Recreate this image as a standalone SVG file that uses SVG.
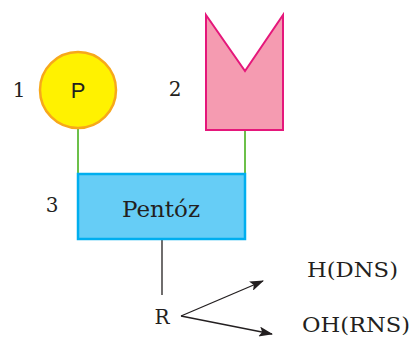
<svg xmlns="http://www.w3.org/2000/svg" width="414" height="338" viewBox="0 0 414 338">
<style>
.lbl{font-family:"DejaVu Serif","Liberation Serif",serif;fill:#231f20}
.g{stroke:#6cc04a;stroke-width:2;fill:none}
.k{stroke:#231f20;stroke-width:1.3;fill:none}
</style>
<defs>
<marker id="ah" viewBox="0 0 14 10" refX="13" refY="5" markerWidth="14" markerHeight="10" markerUnits="userSpaceOnUse" orient="auto">
<path d="M0,0 L14,5 L0,10 L3,5 Z" fill="#231f20"/>
</marker>
</defs>
<rect width="414" height="338" fill="#fff"/>
<g id="connectors">
<line class="g" x1="78" y1="129" x2="78" y2="173"/>
<line class="g" x1="245" y1="130" x2="245" y2="173"/>
<line class="k" x1="162" y1="239" x2="162" y2="295"/>
<line class="k" x1="181" y1="316" x2="263" y2="281" marker-end="url(#ah)"/>
<line class="k" x1="181" y1="316" x2="272" y2="334" marker-end="url(#ah)"/>
</g>
<g id="node-phosphate">
<circle cx="78" cy="90" r="38" fill="#fff200" stroke="#f7a81b" stroke-width="2.5"/>
<text x="78" y="98" text-anchor="middle" font-family="'Liberation Sans',Arial,sans-serif" font-size="22" fill="#231f20">P</text>
</g>
<text class="lbl" x="19" y="97" text-anchor="middle" font-size="20">1</text>
<g id="node-base">
<path d="M206,15 L245,71 L283,15 L283,130 L206,130 Z" fill="#f59bb1" stroke="#e5177b" stroke-width="2"/>
</g>
<text class="lbl" x="175" y="96" text-anchor="middle" font-size="20">2</text>
<g id="node-pentose">
<rect x="78" y="174" width="167" height="65" fill="#66cdf6" stroke="#00aeef" stroke-width="2.5"/>
<text class="lbl" x="161" y="217" text-anchor="middle" font-size="23">Pentóz</text>
</g>
<text class="lbl" x="52" y="212" text-anchor="middle" font-size="20">3</text>
<g id="node-R">
<text class="lbl" x="162" y="324" text-anchor="middle" font-size="20">R</text>
</g>
<g id="node-H">
<text class="lbl" x="307" y="277" font-size="21" textLength="91" lengthAdjust="spacingAndGlyphs">H(DNS)</text>
</g>
<g id="node-OH">
<text class="lbl" x="302" y="332" font-size="20" textLength="108" lengthAdjust="spacingAndGlyphs">OH(RNS)</text>
</g>
</svg>
